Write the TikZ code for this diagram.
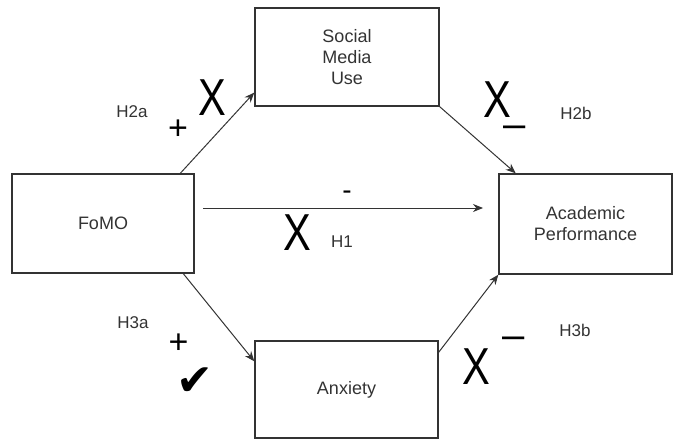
\documentclass[tikz,border=0pt]{standalone}
\usepackage{fontspec}
\setmainfont{Liberation Sans}
\newfontfamily\checkfont{DejaVu Sans}
\usetikzlibrary{arrows.meta}

\begin{document}
\begin{tikzpicture}[x=1pt, y=1pt,
    every node/.style={text=black!80, font=\fontsize{18}{21}\selectfont},
    var/.style={draw=black!80, line width=1.4pt, align=center, inner sep=0pt},
    link/.style={draw=black!80, line width=1pt, -{Stealth[length=10pt,width=8pt]}},
    hyp/.style={font=\fontsize{17}{17}\selectfont},
    nope/.style={text=black, inner sep=0pt, font=\fontsize{52}{52}\selectfont, xscale=0.8},
    sign/.style={text=black, inner sep=0pt, font=\fontsize{34}{34}\selectfont},
    minus/.style={text=black, inner sep=0pt, font=\fontsize{40}{40}\selectfont}]
  \useasboundingbox (0,0) rectangle (674,440);
  % variables
  \node[var, minimum width=182pt, minimum height=99pt] (fomo) at (103,216.5) {FoMO};
  \node[var, minimum width=184pt, minimum height=98pt] (smu) at (347,383) {Social\\Media\\Use};
  \node[var, minimum width=173pt, minimum height=100pt] (ap) at (585.5,216) {Academic\\Performance};
  \node[var, minimum width=183pt, minimum height=97pt] (anx) at (346.5,50.5) {Anxiety};
  \coordinate (h1s) at (203,232);
  \coordinate (h1e) at (483,232);
  % paths
  \draw[link] (fomo.33) -- (smu.201);
  \draw[link] (smu.south east) -- (ap.144);
  \draw[link] (h1s) -- (h1e);
  \draw[link] (fomo.-32) -- (anx.163);
  \draw[link] (anx.22) -- (ap.south west);
  % hypotheses
  \node[hyp] (h2a) at (132,328) {H2a};
  \node[sign] (p2a) at (178,310) {+};
  \node[nope] (x2a) at (212,342) {X};
  \node[nope] (x2b) at (497,340) {X};
  \node[minus] (m2b) at (515,308) {–};
  \node[hyp] (h2b) at (576,327) {H2b};
  \node[sign, font=\fontsize{28}{28}\selectfont] (m1) at (347,245) {-};
  \node[nope] (x1) at (297,207) {X};
  \node[hyp] (h1) at (342,198) {H1};
  \node[hyp] (h3a) at (133,117) {H3a};
  \node[sign] (p3a) at (178.5,96.5) {+};
  \node[text=black, font=\checkfont\fontsize{44}{44}\selectfont] (ok3a) at (195,58) {✔};
  \node[nope] (x3b) at (476,73.5) {X};
  \node[minus] (m3b) at (514,97) {–};
  \node[hyp] (h3b) at (575,110) {H3b};
\end{tikzpicture}
\end{document}
